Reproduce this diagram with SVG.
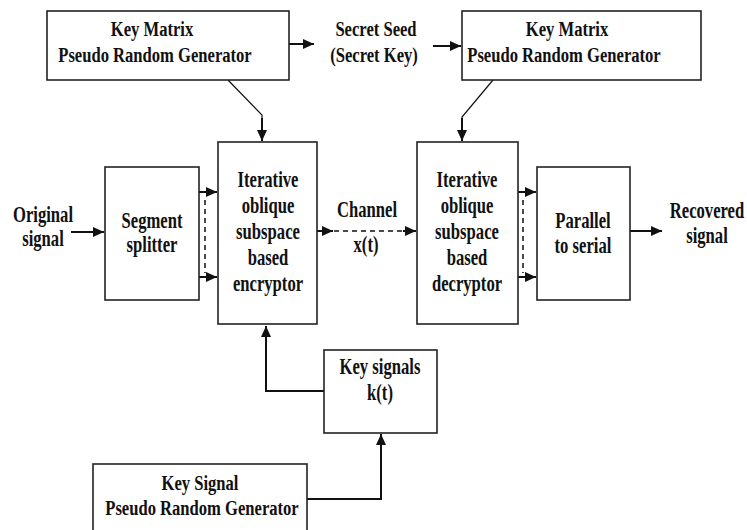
<svg xmlns="http://www.w3.org/2000/svg" width="747" height="530" viewBox="0 0 747 530">
<style>
.box{fill:#fff;stroke:#222;stroke-width:1.6}
text{font-family:"Liberation Serif","Times New Roman",serif;font-weight:bold;fill:#111;text-anchor:middle}
.t1{font-size:20px}
.t2{font-size:22.5px}
.ar{fill:none;stroke:#111;stroke-width:2}
.thin{fill:none;stroke:#111;stroke-width:1.2}
.dash{fill:none;stroke:#111;stroke-width:1.5;stroke-dasharray:5,4}
</style>
<defs>
<marker id="ah" markerUnits="userSpaceOnUse" markerWidth="12" markerHeight="10" refX="11" refY="5" orient="auto">
<path d="M0,0 L11,5 L0,10 Z" fill="#111"/>
</marker>
</defs>
<g id="connectors">
<path class="ar" d="M289,44 L314,44" marker-end="url(#ah)"/>
<path class="ar" d="M433,46 L461,46" marker-end="url(#ah)"/>
<path class="thin" d="M228,80 L262,115 L262,130"/>
<path class="ar" d="M262,118 L262,141" marker-end="url(#ah)"/>
<path class="thin" d="M493,80 L462,117 L462,130"/>
<path class="ar" d="M462,118 L462,141" marker-end="url(#ah)"/>
<path class="ar" d="M71,232 L104,232" marker-end="url(#ah)"/>
<path class="ar" d="M199,192 L217,192" marker-end="url(#ah)"/>
<path class="ar" d="M199,277 L217,277" marker-end="url(#ah)"/>
<path class="dash" d="M205,200 L205,273"/>
<path class="ar" d="M317,231 L333,231" marker-end="url(#ah)"/>
<path class="dash" d="M334,231 L406,231"/>
<path class="ar" d="M403,231 L416,231" marker-end="url(#ah)"/>
<path class="ar" d="M518,192 L536,192" marker-end="url(#ah)"/>
<path class="ar" d="M518,277 L536,277" marker-end="url(#ah)"/>
<path class="dash" d="M523,200 L523,273"/>
<path class="ar" d="M630,231 L662,231" marker-end="url(#ah)"/>
<path class="ar" d="M324,391 L266,391 L266,326" marker-end="url(#ah)"/>
<path class="ar" d="M307,499 L381,499 L381,434" marker-end="url(#ah)"/>
</g>
<g id="kmprg1">
<rect class="box" x="47" y="11" width="242" height="69"/>
<text class="t1" transform="translate(152,36) scale(0.83,1)">Key Matrix</text>
<text class="t1" transform="translate(155,62) scale(0.83,1)">Pseudo Random Generator</text>
</g>
<g id="seed">
<text class="t1" transform="translate(376,36) scale(0.83,1)">Secret Seed</text>
<text class="t1" transform="translate(374,62) scale(0.83,1)">(Secret Key)</text>
</g>
<g id="kmprg2">
<rect class="box" x="462" y="11" width="239" height="69"/>
<text class="t1" transform="translate(567,36) scale(0.83,1)">Key Matrix</text>
<text class="t1" transform="translate(564,62) scale(0.83,1)">Pseudo Random Generator</text>
</g>
<g id="original">
<text class="t2" transform="translate(43,222) scale(0.74,1)">Original</text>
<text class="t2" transform="translate(43,246) scale(0.74,1)">signal</text>
</g>
<g id="splitter">
<rect class="box" x="105" y="167" width="94" height="133"/>
<text class="t2" transform="translate(152,228) scale(0.74,1)">Segment</text>
<text class="t2" transform="translate(152,252) scale(0.74,1)">splitter</text>
</g>
<g id="encryptor">
<rect class="box" x="218" y="142" width="99" height="182"/>
<text class="t2" transform="translate(268,187) scale(0.74,1)">Iterative</text>
<text class="t2" transform="translate(268,213) scale(0.74,1)">oblique</text>
<text class="t2" transform="translate(268,239) scale(0.74,1)">subspace</text>
<text class="t2" transform="translate(268,265) scale(0.74,1)">based</text>
<text class="t2" transform="translate(268,291) scale(0.74,1)">encryptor</text>
</g>
<g id="channel">
<text class="t2" transform="translate(367,217) scale(0.74,1)">Channel</text>
<text class="t2" transform="translate(366,252) scale(0.74,1)">x(t)</text>
</g>
<g id="decryptor">
<rect class="box" x="417" y="142" width="101" height="182"/>
<text class="t2" transform="translate(467,187) scale(0.74,1)">Iterative</text>
<text class="t2" transform="translate(467,213) scale(0.74,1)">oblique</text>
<text class="t2" transform="translate(467,239) scale(0.74,1)">subspace</text>
<text class="t2" transform="translate(467,265) scale(0.74,1)">based</text>
<text class="t2" transform="translate(467,291) scale(0.74,1)">decryptor</text>
</g>
<g id="p2s">
<rect class="box" x="537" y="167" width="93" height="133"/>
<text class="t2" transform="translate(583,228) scale(0.74,1)">Parallel</text>
<text class="t2" transform="translate(583,253) scale(0.74,1)">to serial</text>
</g>
<g id="recovered">
<text class="t2" transform="translate(707,218) scale(0.74,1)">Recovered</text>
<text class="t2" transform="translate(707,243) scale(0.74,1)">signal</text>
</g>
<g id="keysignals">
<rect class="box" x="324" y="350" width="113" height="83"/>
<text class="t2" transform="translate(380,374) scale(0.74,1)">Key signals</text>
<text class="t2" transform="translate(380,400) scale(0.74,1)">k(t)</text>
</g>
<g id="ksprg">
<rect class="box" x="93" y="464" width="214" height="80"/>
<text class="t1" transform="translate(200,490) scale(0.83,1)">Key Signal</text>
<text class="t1" transform="translate(202,515) scale(0.83,1)">Pseudo Random Generator</text>
</g>
</svg>
